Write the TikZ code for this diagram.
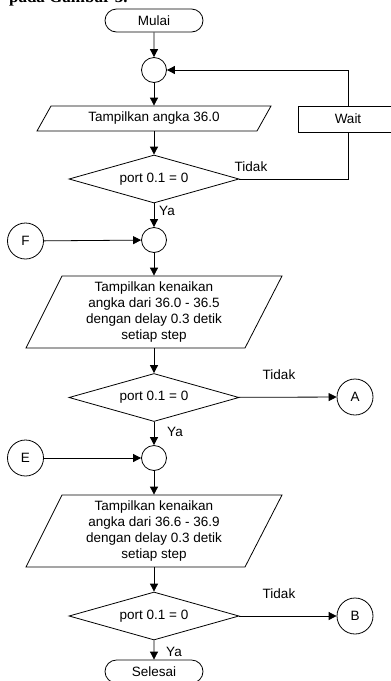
\documentclass[tikz,border=0pt]{standalone}
\usepackage{fontspec}
\setmainfont{Liberation Sans}
\newfontfamily\headfont{Liberation Serif}
\usetikzlibrary{arrows.meta,shapes.geometric,shapes.misc}
\begin{document}
\begin{tikzpicture}[x=1pt,y=-1pt,
  line width=0.8pt,
  font=\fontsize{13.5}{16.2}\selectfont,
  arr/.style={-{Triangle[length=8pt,width=8pt]}},
  term/.style={draw,rounded rectangle,minimum width=98pt,minimum height=23pt,inner sep=0pt},
  joint/.style={draw,circle,minimum size=25pt,inner sep=0pt},
  offc/.style={draw,circle,minimum size=36pt,inner sep=0pt},
  dec/.style={draw,diamond,aspect=3.54,minimum width=170pt,minimum height=48pt,inner sep=0pt},
  txt/.style={inner sep=0pt,align=center},
  lbl/.style={inner sep=0pt}]
\useasboundingbox (0,0) rectangle (391,681);

% clipped heading line at top
\begin{scope}
\clip (0,0) rectangle (391,681);
\node[anchor=base east,inner sep=0pt,font=\headfont\bfseries\fontsize{17}{19}\selectfont] (head) at (128,2.5) {pada Gambar 3.};
\end{scope}

% nodes
\node[term] (start) at (154,20.5) {Mulai};
\node[joint] (c1) at (154,70) {};
\node[txt,minimum width=220pt,minimum height=25pt] (p1) at (154,118.5) {Tampilkan angka 36.0};
\draw (51,106) -- (271,106) -- (257,131) -- (37,131) -- cycle;
\node[draw,minimum width=100pt,minimum height=26pt,inner sep=0pt] (wait) at (348,119) {Wait};
\node[dec] (d1) at (154,179) {port 0.1 = 0};
\node[joint] (c2) at (154,240) {};
\node[offc] (F) at (25.5,241) {F};

\node[txt,minimum width=220pt,minimum height=72pt] (p2) at (154,312) {Tampilkan kenaikan\\angka dari 36.0 - 36.5\\dengan delay 0.3 detik\\setiap step};
\draw (62,276) -- (282,276) -- (245,348) -- (26,348) -- cycle;
\node[dec] (d2) at (154,397.5) {port 0.1 = 0};
\node[offc] (A) at (355,397) {A};
\node[joint] (c3) at (154,458) {};
\node[offc] (E) at (25.5,458) {E};

\node[txt,minimum width=220pt,minimum height=72pt] (p3) at (154,531) {Tampilkan kenaikan\\angka dari 36.6 - 36.9\\dengan delay 0.3 detik\\setiap step};
\draw (62,495) -- (282,495) -- (245,567) -- (26,567) -- cycle;
\node[dec] (d3) at (154,616) {port 0.1 = 0};
\node[offc] (B) at (355,616) {B};
\node[term] (end) at (154,671.5) {Selesai};

% labels
\node[lbl] (t1) at (251,167) {Tidak};
\node[lbl] (y1) at (167,211) {Ya};
\node[lbl] (t2) at (279,375) {Tidak};
\node[lbl] (y2) at (175,432) {Ya};
\node[lbl] (t3) at (279,594) {Tidak};
\node[lbl] (y3) at (174,652) {Ya};

% connectors
\draw[arr] (start) -- (c1);
\draw[arr] (c1) -- (p1);
\draw[arr] (p1) -- (d1);
\draw (d1.east) -| (wait.south);
\draw[arr] (wait.north) |- (c1.east);
\draw[arr] (d1) -- (c2);
\draw[arr] (F) -- (c2);
\draw[arr] (c2) -- (p2);
\draw[arr] (p2) -- (d2);
\draw[arr] (d2) -- (A);
\draw[arr] (d2) -- (c3);
\draw[arr] (E) -- (c3);
\draw[arr] (c3) -- (p3);
\draw[arr] (p3) -- (d3);
\draw[arr] (d3) -- (B);
\draw[arr] (d3) -- (end);
\end{tikzpicture}
\end{document}
